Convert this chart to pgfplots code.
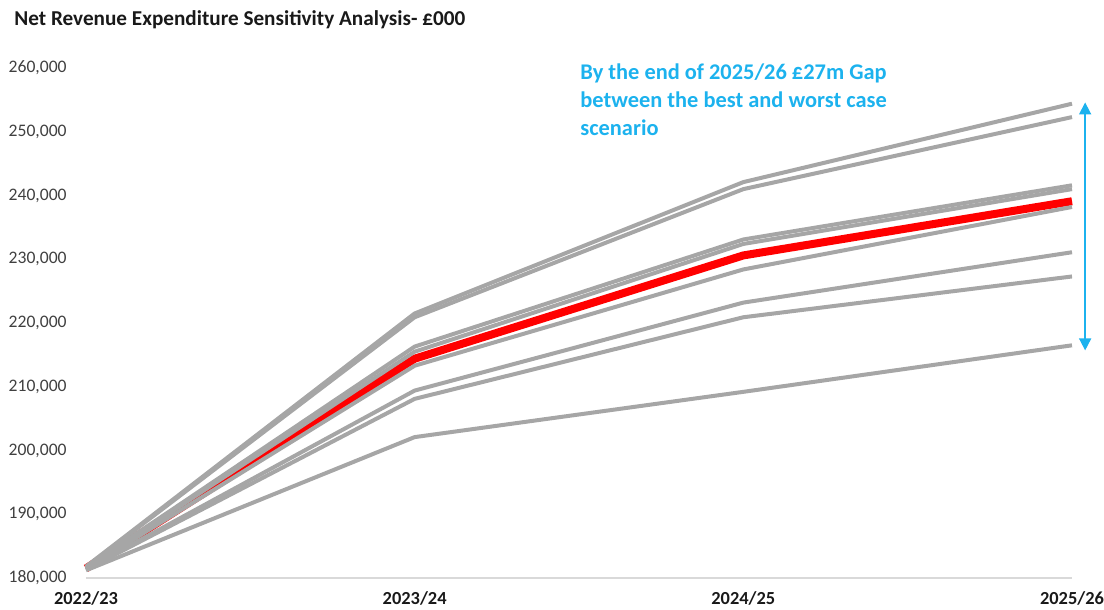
\documentclass[border=0pt]{standalone}
\usepackage{pgfplots}
\pgfplotsset{compat=1.18}
\usepackage{fontspec}
\setmainfont{Carlito}
\usetikzlibrary{arrows.meta}

\definecolor{linegrey}{HTML}{A6A6A6}
\definecolor{annblue}{HTML}{1CB2EE}
\definecolor{axisgrey}{HTML}{D9D9D9}
\definecolor{labelgrey}{HTML}{404040}

\begin{document}
\begin{tikzpicture}
\useasboundingbox (0,0) rectangle (552pt,305pt);
\begin{axis}[
  at = {(43pt,16pt)},
  anchor = south west,
  scale only axis,
  width = 493pt,
  height = 255pt,
  xmin = 0, xmax = 3,
  ymin = 180000, ymax = 260000,
  ytick distance = 10000,
  xtick = {0,1,2,3},
  xticklabels = {2022/23, 2023/24, 2024/25, 2025/26},
  scaled y ticks = false,
  /pgf/number format/.cd, fixed, 1000 sep = {,}, assume math mode = true,
  /pgfplots/.cd,
  axis x line* = bottom,
  axis y line* = left,
  x axis line style = {draw = axisgrey, line width = 0.6pt, -},
  y axis line style = {draw = none},
  major tick length = 0pt,
  tick style = {draw = none},
  yticklabel style = {font = \fontsize{8.8}{11}\selectfont, text = labelgrey, anchor = east, inner sep = 0pt, xshift = -9.5pt},
  xticklabel style = {font = \bfseries\fontsize{9.2}{11}\selectfont, text = black!90, anchor = north, inner sep = 0pt, yshift = -6.5pt},
  clip = false,
  every axis plot/.append style = {line join = round},
]
  % base case, drawn first so the scenario lines sit over it
  \addplot[color = red, line width = 4pt] coordinates { (0,181500) (1,214400) (2,230600) (3,239100) };

  % sensitivity scenarios
  \addplot[color = linegrey, line width = 2pt] coordinates { (0,181800) (1,221500) (2,242100) (3,254400) };
  \addplot[color = linegrey, line width = 2pt] coordinates { (0,181700) (1,220900) (2,241000) (3,252300) };
  \addplot[color = linegrey, line width = 2pt] coordinates { (0,181650) (1,216300) (2,233100) (3,241600) };
  \addplot[color = linegrey, line width = 2pt] coordinates { (0,181550) (1,215500) (2,232400) (3,241000) };
  \addplot[color = linegrey, line width = 2pt] coordinates { (0,181450) (1,213300) (2,228400) (3,238200) };
  \addplot[color = linegrey, line width = 2pt] coordinates { (0,181350) (1,209400) (2,223200) (3,231100) };
  \addplot[color = linegrey, line width = 2pt] coordinates { (0,181300) (1,208100) (2,220900) (3,227300) };
  \addplot[color = linegrey, line width = 2pt] coordinates { (0,181200) (1,202100) (2,209200) (3,216500) };

  \draw[annblue, line width = 0.8pt, {Triangle[length=6pt, width=6pt]}-{Triangle[length=6pt, width=6pt]}]
    (axis cs:3.04,254600) -- (axis cs:3.04,215700);

  \node[anchor = north west, align = left, inner sep = 0pt, text = annblue,
        font = \bfseries\fontsize{11.2}{14}\selectfont]
    at (axis cs:1.503,260800)
    {By the end of 2025/26 £27m Gap\\between the best and worst case\\scenario};
\end{axis}
\node[anchor = west, inner sep = 0pt, font = \bfseries\fontsize{10.6}{12}\selectfont, text = black!90]
  at (7pt,295pt) {Net Revenue Expenditure Sensitivity Analysis- £000};
\end{tikzpicture}
\end{document}
